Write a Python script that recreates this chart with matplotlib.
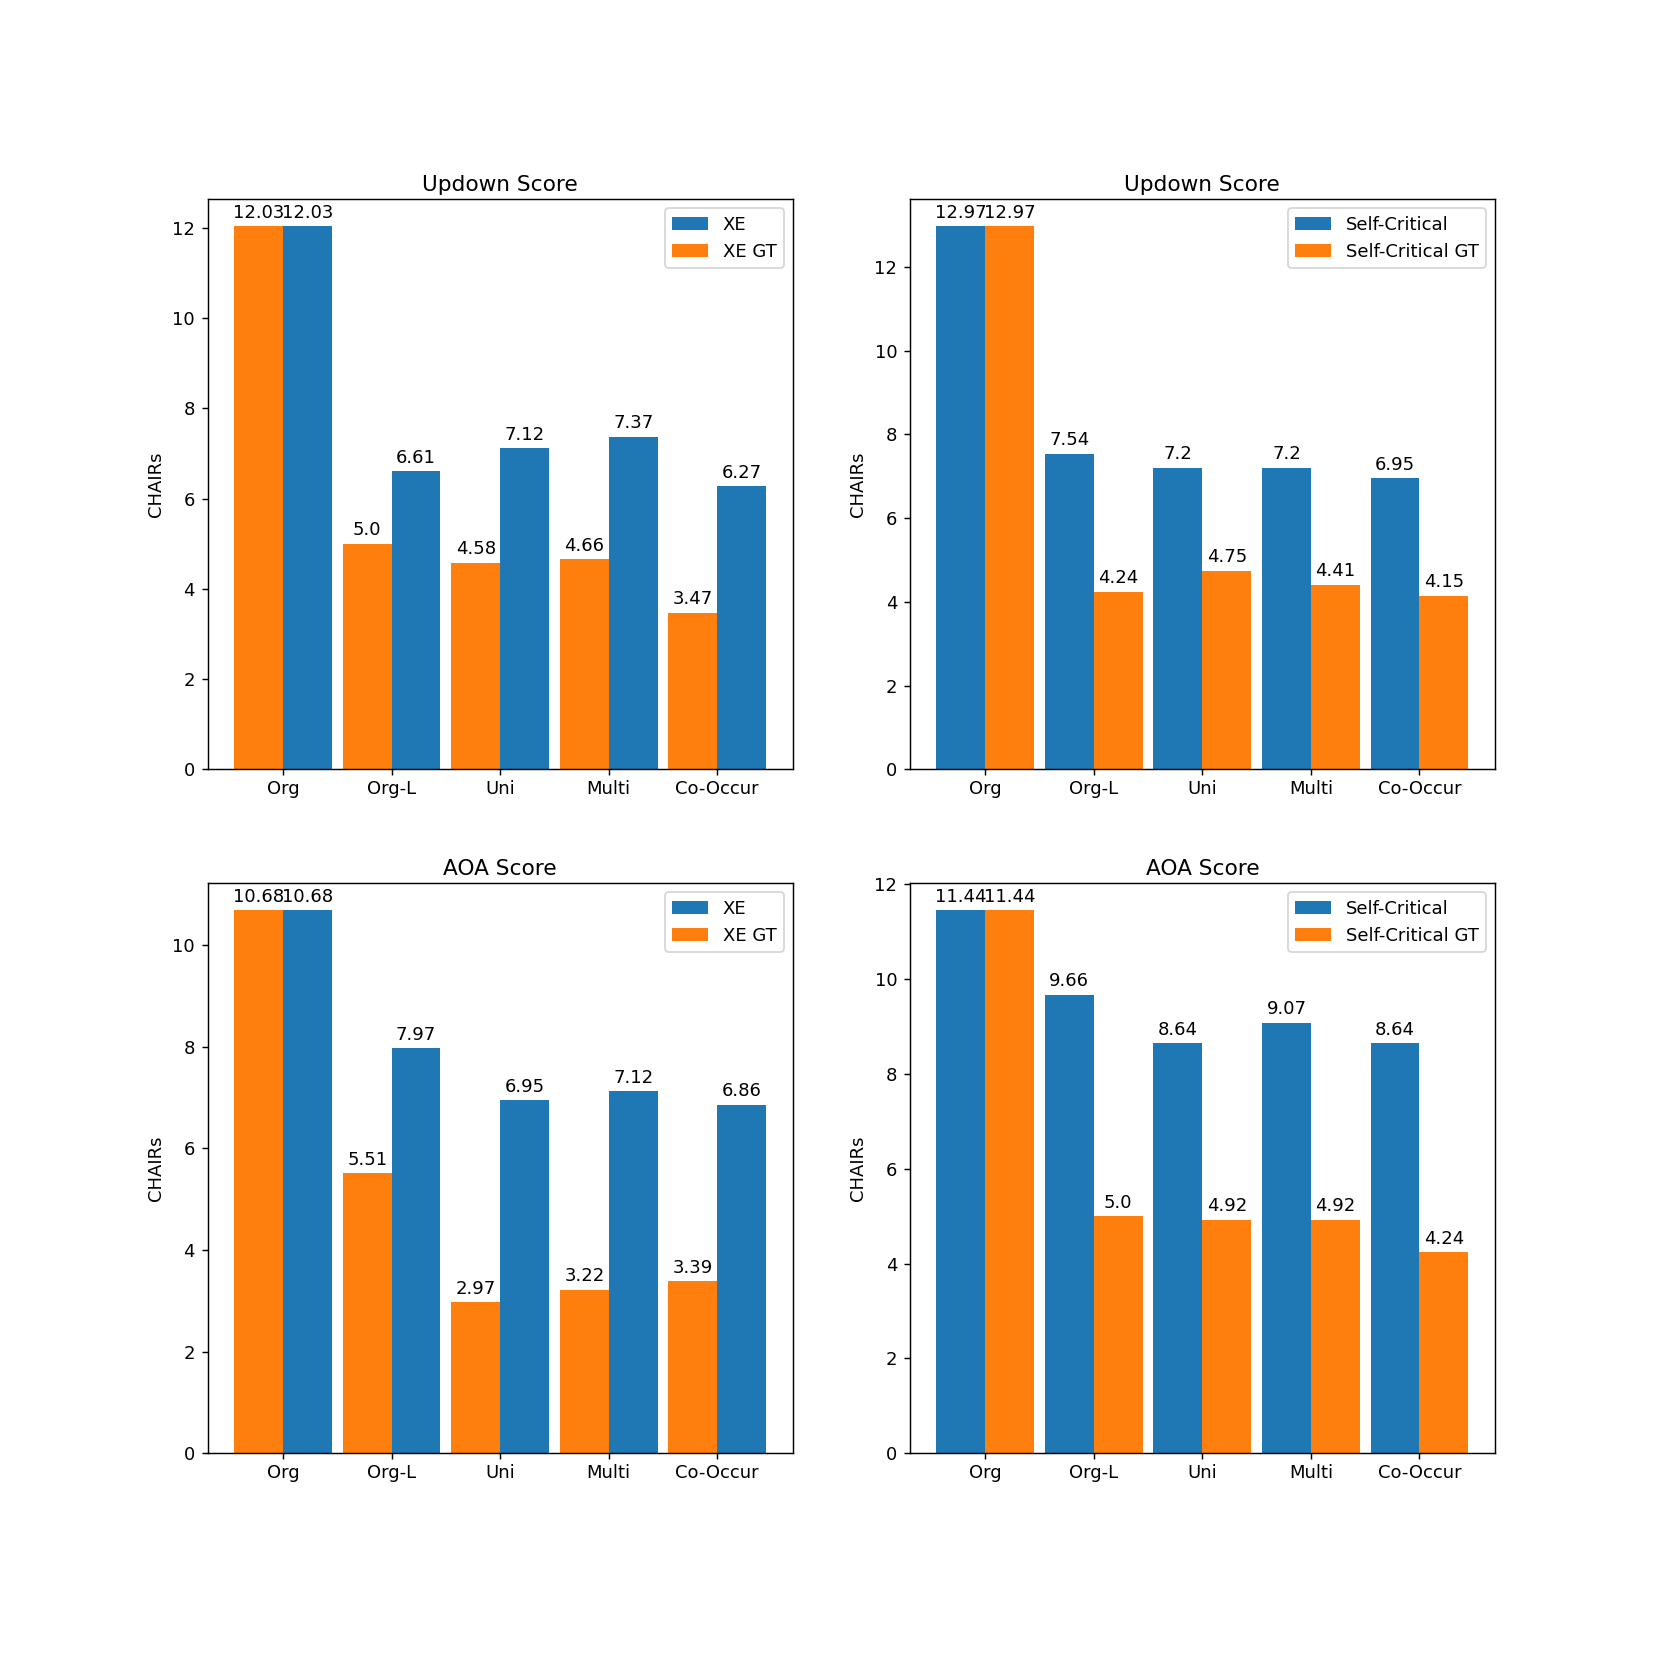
import numpy as np
import matplotlib
matplotlib.use("Agg")
import matplotlib.pyplot as plt

categories = ["Org", "Org-L", "Uni", "Multi", "Co-Occur"]

# Updown
updown_xe = [12.03, 6.61, 7.12, 7.37, 6.27]
updown_xe_gt = [12.03, 5.0, 4.58, 4.66, 3.47]
updown_sc = [12.97, 7.54, 7.2, 7.2, 6.95]
updown_sc_gt = [12.97, 4.24, 4.75, 4.41, 4.15]

# AOA
aoa_xe = [10.68, 7.97, 6.95, 7.12, 6.86]
aoa_xe_gt = [10.68, 5.51, 2.97, 3.22, 3.39]
aoa_sc = [11.44, 9.66, 8.64, 9.07, 8.64]
aoa_sc_gt = [11.44, 5.0, 4.92, 4.92, 4.24]

width = 0.45
x = np.arange(len(categories))


def plot_panel(ax, title, base, gt, name, base_left):
    off = -width / 2 if base_left else width / 2
    b1 = ax.bar(x + off, base, width, color="C0", label=name)
    b2 = ax.bar(x - off, gt, width, color="C1", label=name + " GT")
    ax.bar_label(b2, labels=[str(v) for v in gt], padding=2.5)
    ax.bar_label(b1, labels=[str(v) for v in base], padding=2.5)
    ax.set_xticks(x)
    ax.set_xticklabels(categories)
    ax.tick_params(axis="x", pad=2.5)
    ax.set_ylabel("CHAIRs")
    ax.set_title(title, pad=4.5)
    ax.legend(loc="upper right")


fig, axes = plt.subplots(2, 2, figsize=(1661 / 130, 1661 / 130), dpi=130)
fig.subplots_adjust(left=0.125, right=0.9, top=0.88, bottom=0.125,
                    wspace=0.2, hspace=0.2)

plot_panel(axes[0, 0], "Updown Score", updown_xe, updown_xe_gt, "XE", False)
plot_panel(axes[0, 1], "Updown Score", updown_sc, updown_sc_gt, "Self-Critical", True)
plot_panel(axes[1, 0], "AOA Score", aoa_xe, aoa_xe_gt, "XE", False)
plot_panel(axes[1, 1], "AOA Score", aoa_sc, aoa_sc_gt, "Self-Critical", True)

fig.savefig("out.png", dpi=130)
